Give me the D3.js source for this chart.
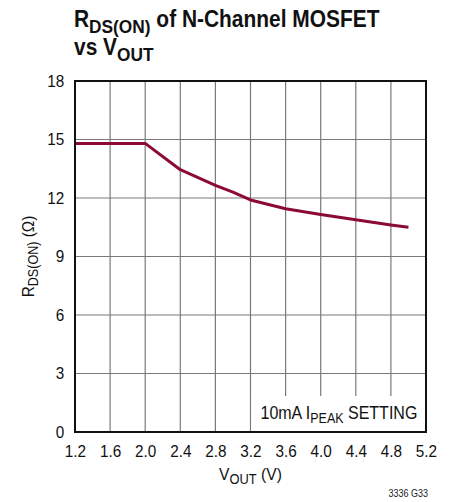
<!DOCTYPE html>
<html>
<head>
<meta charset="utf-8">
<script src="https://cdn.jsdelivr.net/npm/d3@7/dist/d3.min.js"></script>
<style>
  html, body { margin: 0; padding: 0; background: #fff; }
  svg { display: block; font-family: "Liberation Sans", Arial, sans-serif; }
</style>
</head>
<body>
<svg id="chart" width="455" height="502"></svg>
<script>
// Output voltage (V) and measured on-resistance (ohms)
const vout = [1.2, 2.0, 2.4, 2.8, 3.0, 3.2, 3.6, 4.0, 4.4, 4.8, 5.0];
const rdson = [14.8, 14.8, 13.45, 12.65, 12.3, 11.9, 11.45, 11.15, 10.88, 10.62, 10.5];

const xTicks = [1.2, 1.6, 2.0, 2.4, 2.8, 3.2, 3.6, 4.0, 4.4, 4.8, 5.2];
const yTicks = [0, 3, 6, 9, 12, 15, 18];

const margin = { left: 75, top: 81, right: 29, bottom: 70 };
const W = 455, H = 502;
const pw = W - margin.left - margin.right;   // 351
const ph = H - margin.top - margin.bottom;   // 351

const svg = d3.select("#chart");
const g = svg.append("g").attr("transform", `translate(${margin.left},${margin.top})`);

const x = d3.scaleLinear().domain([1.2, 5.2]).range([0, pw]);
const y = d3.scaleLinear().domain([0, 18]).range([ph, 0]);

// narrow lettering: text placed in a group anchored at (ax, ay), squeezed horizontally
function label(parent, ax, ay, sx, rot) {
  const grp = parent.append("g")
    .attr("transform", `translate(${ax},${ay})${rot ? ` rotate(${rot})` : ""} scale(${sx},1)`);
  return grp.append("text").attr("fill", "#111");
}

// grid
g.append("g").selectAll("line").data(xTicks.slice(1, -1)).join("line")
  .attr("x1", d => x(d)).attr("x2", d => x(d))
  .attr("y1", 0).attr("y2", ph)
  .attr("stroke", "#7a7a7a").attr("stroke-width", 1.2);
g.append("g").selectAll("line").data(yTicks.slice(1, -1)).join("line")
  .attr("x1", 0).attr("x2", pw)
  .attr("y1", d => y(d)).attr("y2", d => y(d))
  .attr("stroke", "#7a7a7a").attr("stroke-width", 1.2);

// annotation box (covers grid)
g.append("rect")
  .attr("x", x(3.2) + 1).attr("y", y(0) - 36)
  .attr("width", pw - x(3.2) - 1).attr("height", 36)
  .attr("fill", "#fff");
const nt = label(g, x(3.2) + 10, y(0) - 13, 0.89).attr("font-size", 18);
nt.append("tspan").text("10mA I");
nt.append("tspan").attr("font-size", 14).attr("dy", 4).text("PEAK");
nt.append("tspan").attr("dy", -4).text(" SETTING");

// curve
g.append("path")
  .datum(vout.map((v, i) => [v, rdson[i]]))
  .attr("fill", "none")
  .attr("stroke", "#8b0b33")
  .attr("stroke-width", 3)
  .attr("stroke-linejoin", "round")
  .attr("d", d3.line().x(d => x(d[0])).y(d => y(d[1])));

// frame
g.append("rect").attr("x", 0).attr("y", 0).attr("width", pw).attr("height", ph)
  .attr("fill", "none").attr("stroke", "#111").attr("stroke-width", 2);

// axes labels
const xAxis = d3.axisBottom(x).tickValues(xTicks).tickSize(0).tickPadding(13)
  .tickFormat(d3.format(".1f"));
const xa = g.append("g").attr("transform", `translate(0,${ph})`).call(xAxis);
xa.select(".domain").remove();
xa.selectAll("text").attr("font-size", 17).attr("fill", "#111").attr("font-family", null)
  .attr("transform", "scale(0.9,1)");

const yAxis = d3.axisLeft(y).tickValues(yTicks).tickSize(0).tickPadding(12);
const ya = g.append("g").call(yAxis);
ya.select(".domain").remove();
ya.selectAll("text").attr("font-size", 17).attr("fill", "#111").attr("font-family", null)
  .attr("transform", "scale(0.9,1)");

// x title
const xt = label(svg, margin.left + pw / 2, 480, 0.92).attr("text-anchor", "middle").attr("font-size", 17);
xt.append("tspan").text("V");
xt.append("tspan").attr("font-size", 14).attr("dy", 4).text("OUT");
xt.append("tspan").attr("dy", -4).text(" (V)");

// y title
const yt = label(svg, 34, margin.top + ph / 2, 0.9, -90).attr("text-anchor", "middle").attr("font-size", 17);
yt.append("tspan").text("R");
yt.append("tspan").attr("font-size", 14).attr("dy", 4).text("DS(ON)");
yt.append("tspan").attr("dy", -4).text(" (\u03A9)");

// title
const t1 = label(svg, 74, 27, 0.91).attr("font-size", 23).attr("font-weight", "bold");
t1.append("tspan").text("R");
t1.append("tspan").attr("font-size", 19).attr("dy", 6).text("DS(ON)");
t1.append("tspan").attr("dy", -6).text(" of N-Channel MOSFET");
const t2 = label(svg, 74, 55, 0.91).attr("font-size", 23).attr("font-weight", "bold");
t2.append("tspan").text("vs V");
t2.append("tspan").attr("font-size", 19).attr("dy", 6).text("OUT");

// figure id
label(svg, 428, 497, 0.9).attr("text-anchor", "end")
  .attr("font-size", 10).attr("fill", "#222").text("3336 G33");
</script>
</body>
</html>
